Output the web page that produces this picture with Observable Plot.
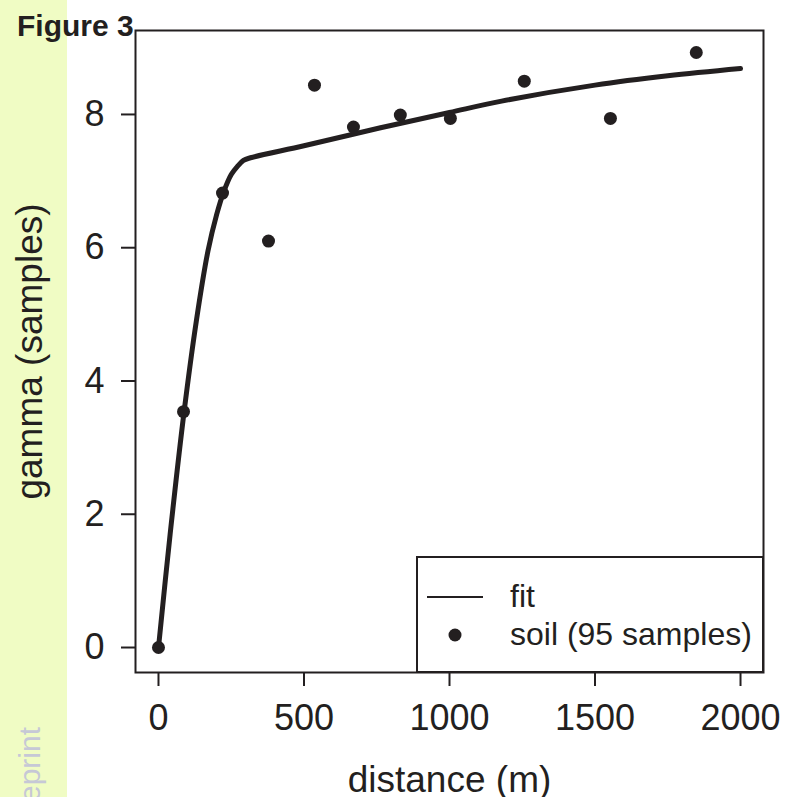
<!DOCTYPE html>
<html>
<head>
<meta charset="utf-8">
<script src="https://cdn.jsdelivr.net/npm/d3@7"></script>
<script src="https://cdn.jsdelivr.net/npm/@observablehq/plot@0.6"></script>
<style>
  html, body { margin: 0; padding: 0; background: #ffffff; }
  #wrap { position: relative; width: 786px; height: 797px; overflow: hidden; }
  #strip { position: absolute; left: 0; top: 0; width: 67px; height: 797px; background: #f0fcc4; }
  #chart { position: absolute; left: 0; top: 0; }
  #overlay { position: absolute; left: 0; top: 0; pointer-events: none; }
</style>
</head>
<body>
<div id="wrap">
  <div id="strip"></div>
  <div id="chart"></div>
  <svg id="overlay" width="786" height="797"></svg>
</div>
<script>
// ---- data ----
const sampleDist  = [0, 86, 220, 378, 536, 670, 831, 1003, 1257, 1553, 1848];
const sampleGamma = [0, 3.54, 6.82, 6.10, 8.44, 7.81, 7.99, 7.94, 8.50, 7.94, 8.93];

const fitDist  = [0, 40, 88, 130, 170, 200, 225, 250, 271, 292, 316, 500, 763, 1000, 1179, 1500, 1750, 2000];
const fitGamma = [0, 1.70, 3.54, 4.90, 5.95, 6.50, 6.85, 7.10, 7.22, 7.31, 7.35, 7.53, 7.80, 8.03, 8.20, 8.44, 8.58, 8.69];

const xTicks = [0, 500, 1000, 1500, 2000];
const yTicks = [0, 2, 4, 6, 8];

const xTitle = "distance (m)";
const yTitle = "gamma (samples)";
const figTitle = "Figure 3";
const legendLabels = ["fit", "soil (95 samples)"];

// ---- build tables ----
const samples = sampleDist.map((d, i) => ({d, g: sampleGamma[i]}));
const fit = fitDist.map((d, i) => ({d, g: fitGamma[i]}));

const ink = "#231f20";
const font = "'Liberation Sans', Arial, Helvetica, sans-serif";

const plot = Plot.plot({
  width: 786,
  height: 797,
  marginLeft: 135,
  marginRight: 23,
  marginTop: 30,
  marginBottom: 125,
  style: {fontFamily: font, fontSize: "36px", color: ink, background: "transparent", overflow: "visible"},
  x: {domain: [-79, 2079]},
  y: {domain: [-0.375, 9.26]},
  marks: [
    Plot.axisX({ticks: xTicks, tickFormat: d => String(d), tickSize: 14, tickPadding: 18, fontSize: 36, label: null, strokeWidth: 2}),
    Plot.axisY({ticks: yTicks, tickFormat: d => String(d), tickSize: 14, tickPadding: 17, fontSize: 36, label: null, strokeWidth: 2}),
    Plot.frame({stroke: ink, strokeWidth: 2}),
    Plot.line(fit, {x: "d", y: "g", curve: "catmull-rom", stroke: ink, strokeWidth: 5, strokeLinecap: "round", strokeLinejoin: "round"}),
    Plot.dot(samples, {x: "d", y: "g", r: 6.5, fill: ink, stroke: "none"}),
    Plot.text([xTitle], {frameAnchor: "bottom", lineAnchor: "top", dy: 93, text: d => d, fontSize: 37, fill: ink}),
    Plot.text([yTitle], {frameAnchor: "left", textAnchor: "middle", lineAnchor: "bottom", rotate: -90, dx: -94, text: d => d, fontSize: 37, fill: ink})
  ]
});
document.getElementById("chart").appendChild(plot);

// ---- overlay: figure label, watermark and legend ----
const ov = d3.select("#overlay");
ov.append("text").attr("x", 17).attr("y", 36)
  .attr("font-family", font).attr("font-weight", "bold").attr("font-size", 30)
  .attr("fill", ink).text(figTitle);

ov.append("text")
  .attr("transform", "translate(40,727) rotate(-90)")
  .attr("text-anchor", "end")
  .attr("font-family", font).attr("font-size", 30)
  .attr("fill", "#c6c8d6").text("bioRxiv preprint");

const lg = ov.append("g");
lg.append("rect").attr("x", 417).attr("y", 557).attr("width", 346).attr("height", 115)
  .attr("fill", "#ffffff").attr("stroke", ink).attr("stroke-width", 2);
lg.append("line").attr("x1", 427).attr("x2", 483).attr("y1", 597).attr("y2", 597)
  .attr("stroke", ink).attr("stroke-width", 2);
lg.append("circle").attr("cx", 455).attr("cy", 635).attr("r", 6.5).attr("fill", ink);
lg.append("text").attr("x", 510).attr("y", 607).attr("font-family", font).attr("font-size", 32)
  .attr("fill", ink).text(legendLabels[0]);
lg.append("text").attr("x", 510).attr("y", 645).attr("font-family", font).attr("font-size", 32)
  .attr("fill", ink).text(legendLabels[1]);
</script>
</body>
</html>
